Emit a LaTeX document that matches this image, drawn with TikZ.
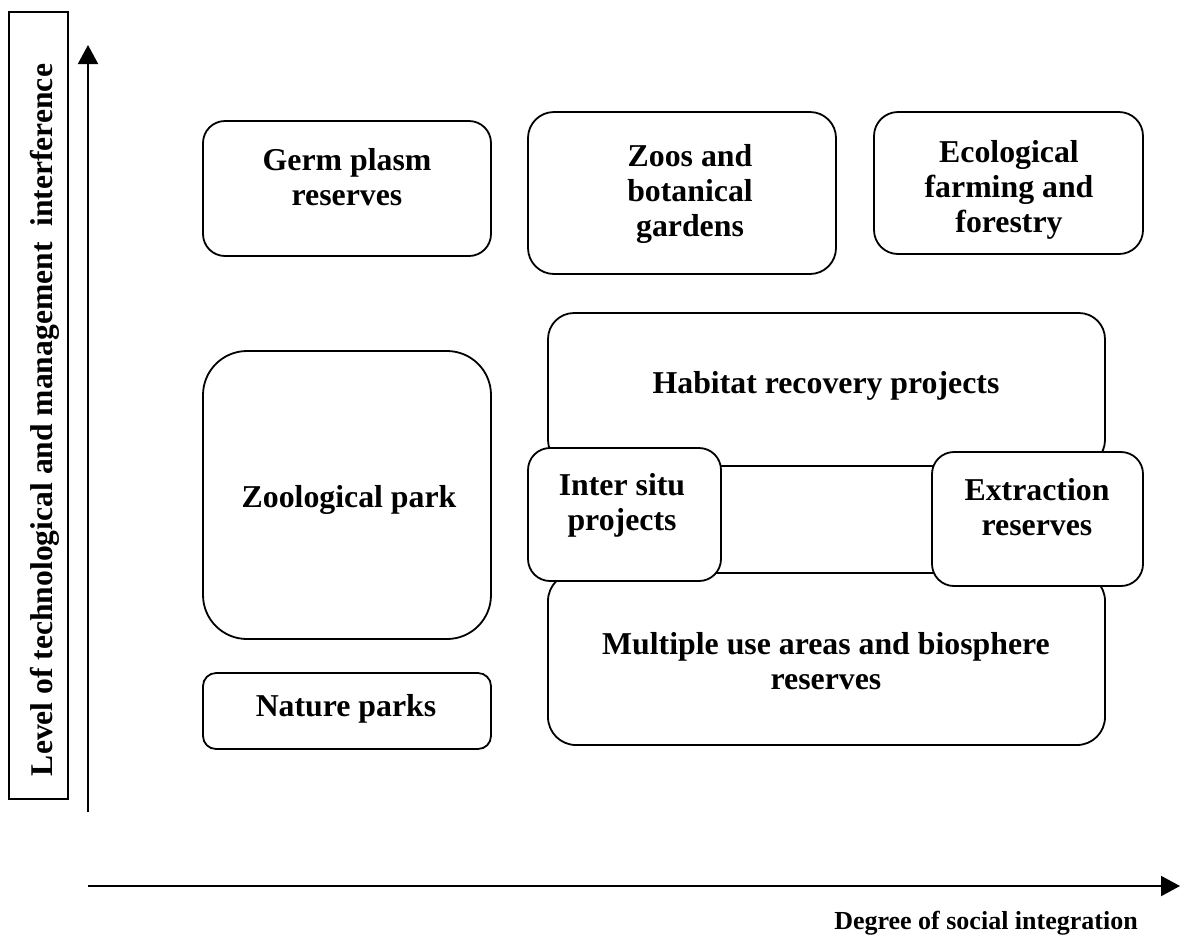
\documentclass[tikz,border=0pt]{standalone}
\usepackage{fontspec}
\setmainfont{Liberation Serif}
\usetikzlibrary{arrows.meta}
\tikzset{
	zone/.style={draw=black, line width=0.9pt, fill=white},
	zonetext/.style={align=center, font=\fontsize{15.9}{17.5}\selectfont\bfseries},
	axis/.style={line width=1pt, -{Triangle[length=9.5pt,width=10pt]}}
}
\begin{document}
\begin{tikzpicture}[x=0.5pt, y=-0.5pt]
		\useasboundingbox (0,0) rectangle (1181,938);
		% axes
		\draw[line width=0.8pt] (9,12) rectangle (68,799);
		\node[rotate=90, anchor=base, font=\fontsize{15.8}{17}\selectfont\bfseries] (ylabel) at (52,420) {Level of technological and management\ \ interference};
		\coordinate (yfoot) at (88,812);
		\coordinate (ytip) at (88,45);
		\coordinate (xfoot) at (88,886);
		\coordinate (xtip) at (1180,886);
		\draw[axis] (yfoot) -- (ytip);
		\draw[axis] (xfoot) -- (xtip);
		\node[anchor=base, font=\fontsize{13}{15}\selectfont\bfseries] (xlabel) at (986,929) {Degree of social integration};
		% top row
		\draw[zone, rounded corners=11pt] (203,121) rectangle (491,256);
		\node[zonetext] (germ) at (347,177) {Germ plasm\\reserves};
		\draw[zone, rounded corners=13pt] (528,112) rectangle (836,274);
		\node[zonetext] (zoos) at (690,194) {Zoos and\\botanical\\gardens};
		\draw[zone, rounded corners=12pt] (874,112) rectangle (1143,254);
		\node[zonetext] (eco) at (1009,190) {Ecological\\farming and\\forestry};
		% left column
		\draw[zone, rounded corners=22pt] (203,351) rectangle (491,639);
		\node[zonetext] (zoopark) at (349,500) {Zoological park};
		\draw[zone, rounded corners=6.5pt] (203,673) rectangle (491,749);
		\node[zonetext] (nature) at (346,709) {Nature parks};
		% right block
		\draw[zone, rounded corners=13pt] (548,313) rectangle (1105,466);
		\node[zonetext] (habitat) at (826,386) {Habitat recovery projects};
		\draw[zone, rounded corners=14pt] (548,573) rectangle (1105,745);
		\node[zonetext] (multiple) at (826,661) {Multiple use areas and biosphere\\reserves};
		\draw[zone, rounded corners=11pt] (528,448) rectangle (721,581);
		\node[zonetext] (intersitu) at (622,505) {Inter situ\\projects};
		\draw[zone, rounded corners=11pt] (932,452) rectangle (1143,586);
		\node[zonetext] (extraction) at (1037,507) {Extraction\\reserves};
	\end{tikzpicture}
\end{document}
